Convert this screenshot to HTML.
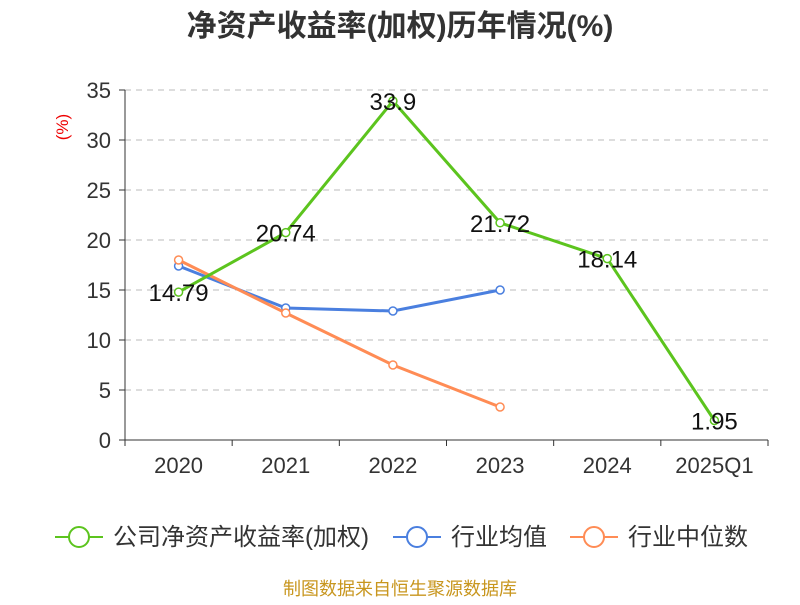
<!DOCTYPE html>
<html><head><meta charset="utf-8"><style>
body{margin:0;background:#fff;}
svg{font-family:"Liberation Sans","Noto Sans CJK SC",sans-serif;}
</style></head><body>
<svg id="c" width="800" height="600">
<text x="400" y="36" text-anchor="middle" font-size="30" font-weight="bold" fill="#333">净资产收益率(加权)历年情况(%)</text>
<text x="68" y="127" font-size="17" fill="#e00" transform="rotate(-90 68 127)" text-anchor="middle">(%)</text>
<g id="grid"></g><g id="marks"></g>
<g>
<g><line x1="55" y1="537" x2="103" y2="537" stroke="#5cc41e" stroke-width="2"/><circle cx="79" cy="537" r="10" fill="#fff" stroke="#5cc41e" stroke-width="2"/><text x="113" y="545" font-size="24" fill="#333">公司净资产收益率(加权)</text></g>
<g><line x1="393" y1="537" x2="441" y2="537" stroke="#4a7fdf" stroke-width="2"/><circle cx="417" cy="537" r="10" fill="#fff" stroke="#4a7fdf" stroke-width="2"/><text x="451" y="545" font-size="24" fill="#333">行业均值</text></g>
<g><line x1="570" y1="537" x2="618" y2="537" stroke="#ff8c55" stroke-width="2"/><circle cx="594" cy="537" r="10" fill="#fff" stroke="#ff8c55" stroke-width="2"/><text x="628" y="545" font-size="24" fill="#333">行业中位数</text></g>
</g>
<text x="400" y="595" text-anchor="middle" font-size="18" fill="#c8961e">制图数据来自恒生聚源数据库</text>
</svg>
<script>
const categories=["2020","2021","2022","2023","2024","2025Q1"];
const roeValues=[14.79,20.74,33.9,21.72,18.14,1.95];
const avgValues=[17.4,13.2,12.9,15.0];
const medianValues=[18.0,12.7,7.5,3.3];
const yTicks=[0,5,10,15,20,25,30,35];
const NS="http://www.w3.org/2000/svg";
const x0=125,x1=768,y0=440,y1=90,ymax=35;
const bw=(x1-x0)/categories.length;
const X=i=>x0+bw*(i+0.5);
const Y=v=>y0-(v/ymax)*(y0-y1);
function mk(p,t,a){const e=document.createElementNS(NS,t);for(const k in a)e.setAttribute(k,a[k]);p.appendChild(e);return e;}
const g=document.getElementById('grid'),m=document.getElementById('marks');
yTicks.forEach(t=>{
  const y=Y(t);
  if(t>0){const l=mk(g,'line',{x1:x0,x2:x1,y1:y,y2:y,stroke:'#bbb','stroke-dasharray':'6,5'});
  
  }
  mk(g,'line',{x1:x0-6,x2:x0,y1:y,y2:y,stroke:'#333'});
  const tx=mk(g,'text',{x:x0-14,y:y+8,'text-anchor':'end','font-size':22,fill:'#333'});tx.textContent=t;
  
  
});
mk(g,'line',{x1:x0,x2:x0,y1:y1,y2:y0,stroke:'#333'});
mk(g,'line',{x1:x0,x2:x1,y1:y0,y2:y0,stroke:'#333'});
categories.forEach((c,i)=>{
  mk(g,'line',{x1:x0+bw*i,x2:x0+bw*i,y1:y0,y2:y0+6,stroke:'#333'});
  const tx=mk(g,'text',{x:X(i),y:y0+33,'text-anchor':'middle','font-size':22,fill:'#333'});tx.textContent=c;
  
  
});
mk(g,'line',{x1:x1,x2:x1,y1:y0,y2:y0+6,stroke:'#333'});
function series(vals,color,name,labels){
  const pl=mk(m,'polyline',{points:vals.map((v,i)=>X(i)+','+Y(v)).join(' '),fill:'none',stroke:color,'stroke-width':3});
  
  
  vals.forEach((v,i)=>{
    const c=mk(m,'circle',{cx:X(i),cy:Y(v),r:4,fill:'#fff',stroke:color,'stroke-width':1.5});
    
    
    if(labels){const t=mk(m,'text',{x:X(i),y:Y(v)+9,'text-anchor':'middle','font-size':24,fill:'#111'});t.textContent=v;
    
    }
  });
}
series(avgValues,'#4a7fdf','industry-avg',false);
series(medianValues,'#ff8c55','industry-median',false);
series(roeValues,'#5cc41e','roe',true);
</script>
</body></html>
